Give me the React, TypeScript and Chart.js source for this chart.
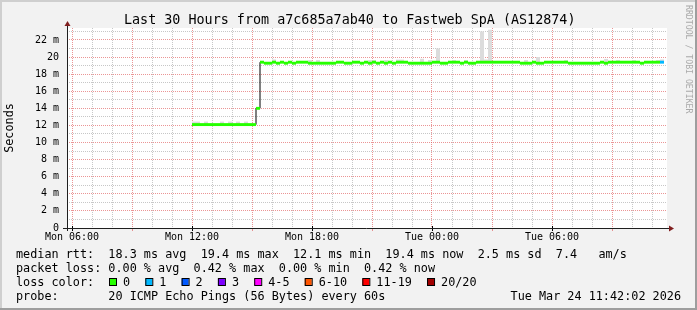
import React, { useEffect, useRef } from "react";
import { Chart, registerables } from "chart.js";

Chart.register(...registerables);

// ---------- text ----------
const TITLE = "Last 30 Hours from a7c685a7ab40 to Fastweb SpA (AS12874)";
const Y_TITLE = "Seconds";
const SIDE_TEXT = "RRDTOOL / TOBI OETIKER";

// ---------- axes (hours since Mon 00:00, milliseconds) ----------
const X_MIN = 5.75;
const X_MAX = 35.75;
const Y_MIN = 0;
const Y_MAX = 23.4;
const xGridHours = [6, 7, 8, 9, 10, 11, 12, 13, 14, 15, 16, 17, 18, 19, 20, 21, 22, 23, 24, 25, 26, 27, 28, 29, 30, 31, 32, 33, 34, 35];
const xLabelHours = [6, 12, 18, 24, 30];
const xLabels = ["Mon 06:00", "Mon 12:00", "Mon 18:00", "Tue 00:00", "Tue 06:00"];
const yGridValues = [0, 1, 2, 3, 4, 5, 6, 7, 8, 9, 10, 11, 12, 13, 14, 15, 16, 17, 18, 19, 20, 21, 22, 23];
const yLabelValues = [0, 2, 4, 6, 8, 10, 12, 14, 16, 18, 20, 22];
const yLabels = ["0", "2 m", "4 m", "6 m", "8 m", "10 m", "12 m", "14 m", "16 m", "18 m", "20", "22 m"];

// ---------- data: 12-minute steps starting Mon 12:00 ----------
const DATA_START_HOUR = 12;
const STEP_HOURS = 0.2;
const medianRtt = [
  12.1, 12.1, 12.1, 12.1, 12.1, 12.1, 12.1, 12.1, 12.1, 12.1,
  12.1, 12.1, 12.1, 12.1, 12.1, 12.1, 14.0, 19.4, 19.28, 19.28,
  19.4, 19.28, 19.4, 19.28, 19.4, 19.28, 19.4, 19.4, 19.4, 19.28,
  19.28, 19.28, 19.28, 19.28, 19.28, 19.28, 19.4, 19.4, 19.28, 19.28,
  19.4, 19.4, 19.28, 19.4, 19.28, 19.4, 19.28, 19.4, 19.28, 19.4,
  19.28, 19.4, 19.4, 19.4, 19.28, 19.28, 19.28, 19.28, 19.28, 19.28,
  19.4, 19.4, 19.28, 19.28, 19.4, 19.4, 19.4, 19.28, 19.4, 19.28,
  19.28, 19.4, 19.4, 19.4, 19.4, 19.4, 19.4, 19.4, 19.4, 19.4,
  19.4, 19.4, 19.28, 19.28, 19.28, 19.4, 19.28, 19.28, 19.4, 19.4,
  19.4, 19.4, 19.4, 19.4, 19.28, 19.28, 19.28, 19.28, 19.28, 19.28,
  19.28, 19.28, 19.4, 19.28, 19.4, 19.4, 19.4, 19.4, 19.4, 19.4,
  19.4, 19.4, 19.28, 19.4, 19.4, 19.4, 19.4, 19.4,
];
// smoke (max ping) where it rises above the median band
const smokeIndex = [0, 1, 3, 7, 9, 11, 13, 20, 29, 31, 44, 45, 48, 51, 52, 57, 59, 61, 65, 68, 72, 73, 74, 83, 86, 93, 103, 106, 110, 116, 117];
const smokeTop = [12.45, 12.45, 12.45, 12.45, 12.45, 12.45, 12.45, 19.72, 19.65, 19.65, 19.65, 19.65, 19.65, 19.7, 19.7, 19.8, 19.65, 21.0, 19.65, 19.65, 23.0, 19.72, 23.2, 19.65, 20.0, 19.65, 19.78, 19.65, 19.65, 19.65, 19.72];
// packet loss (pings lost of 20) where non zero
const lossIndex = [117];
const lossCount = [1];

// ---------- legend ----------
const legendRtt = "median rtt:  18.3 ms avg  19.4 ms max  12.1 ms min  19.4 ms now  2.5 ms sd  7.4   am/s";
const legendLoss = "packet loss: 0.00 % avg  0.42 % max  0.00 % min  0.42 % now";
const legendLossColor = "loss color:";
const lossLabels = ["0", "1", "2", "3", "4-5", "6-10", "11-19", "20/20"];
const lossColors = ["#26ff00", "#00b8ff", "#0059ff", "#7e00ff", "#ff00ff", "#ff5500", "#ff0000", "#a10000"];
const legendProbe = "probe:       20 ICMP Echo Pings (56 Bytes) every 60s";
const legendDate = "Tue Mar 24 11:42:02 2026";

// ---------- styles ----------
const MONO = '"DejaVu Sans Mono", monospace';
const BACK = "#f2f2f2";
const SHADE_A = "#cfcfcf";
const SHADE_B = "#9e9e9e";
const GRID = "rgba(143,143,143,0.5)";
const MGRID = "rgba(222,79,79,0.6)";
const ARROW = "#801f1f";
const SMOKE = "#dcdcdc";
const BAND_HALF = 0.17;

function lossColorFor(count: number): string {
  if (count <= 0) return lossColors[0];
  if (count === 1) return lossColors[1];
  if (count === 2) return lossColors[2];
  if (count === 3) return lossColors[3];
  if (count <= 5) return lossColors[4];
  if (count <= 10) return lossColors[5];
  if (count <= 19) return lossColors[6];
  return lossColors[7];
}

const framePlugin = {
  id: "rrdFrame",
  beforeDraw(chart: any) {
    const { ctx, width, height, chartArea: ca } = chart;
    ctx.save();
    ctx.fillStyle = BACK;
    ctx.fillRect(0, 0, width, height);
    ctx.fillStyle = SHADE_A;
    ctx.fillRect(0, 0, width, 2);
    ctx.fillRect(0, 0, 2, height);
    ctx.fillStyle = SHADE_B;
    ctx.fillRect(0, height - 2, width, 2);
    ctx.fillRect(width - 2, 0, 2, height);
    ctx.fillStyle = "#ffffff";
    ctx.fillRect(ca.left, ca.top, ca.right - ca.left, ca.bottom - ca.top);
    ctx.restore();
  },
  afterDraw(chart: any) {
    const { ctx, chartArea: ca } = chart;
    const xs = chart.scales.x;
    ctx.save();
    const by = ca.bottom + 0.5;
    const lx = ca.left + 0.5;
    // tick marks under x axis
    ctx.lineWidth = 1;
    for (const h of xGridHours) {
      const px = Math.round(xs.getPixelForValue(h)) + 0.5;
      if (xLabelHours.indexOf(h) >= 0) {
        ctx.strokeStyle = "#000";
        ctx.beginPath();
        ctx.moveTo(px, ca.bottom - 2);
        ctx.lineTo(px, ca.bottom + 3);
        ctx.stroke();
      } else if (h % 3 === 0) {
        ctx.strokeStyle = MGRID;
        ctx.beginPath();
        ctx.moveTo(px, ca.bottom + 1);
        ctx.lineTo(px, ca.bottom + 3);
        ctx.stroke();
      }
    }
    // axes
    ctx.strokeStyle = "#1f1f1f";
    ctx.beginPath();
    ctx.moveTo(ca.left - 4, by);
    ctx.lineTo(ca.right + 3, by);
    ctx.stroke();
    ctx.beginPath();
    ctx.moveTo(lx, ca.bottom + 3);
    ctx.lineTo(lx, ca.top - 3);
    ctx.stroke();
    // arrows
    ctx.fillStyle = ARROW;
    ctx.beginPath();
    ctx.moveTo(ca.right + 2, by - 3);
    ctx.lineTo(ca.right + 7, by);
    ctx.lineTo(ca.right + 2, by + 3);
    ctx.closePath();
    ctx.fill();
    ctx.beginPath();
    ctx.moveTo(lx - 3, ca.top - 2);
    ctx.lineTo(lx, ca.top - 7);
    ctx.lineTo(lx + 3, ca.top - 2);
    ctx.closePath();
    ctx.fill();

    // title
    ctx.fillStyle = "#000";
    ctx.textBaseline = "alphabetic";
    ctx.textAlign = "left";
    ctx.font = `13.4px ${MONO}`;
    ctx.fillText(TITLE, 124, 24);

    // y title
    ctx.save();
    ctx.translate(10, (ca.top + ca.bottom) / 2);
    ctx.rotate(-Math.PI / 2);
    ctx.font = `11.8px ${MONO}`;
    ctx.textAlign = "center";
    ctx.textBaseline = "middle";
    ctx.fillText(Y_TITLE, 0, 0);
    ctx.restore();

    // side text
    ctx.save();
    ctx.translate(688, 5);
    ctx.rotate(Math.PI / 2);
    ctx.font = `8.2px ${MONO}`;
    ctx.fillStyle = "#aaaaaa";
    ctx.textAlign = "left";
    ctx.textBaseline = "middle";
    ctx.fillText(SIDE_TEXT, 0, 0);
    ctx.restore();

    // legend
    ctx.font = `11.8px ${MONO}`;
    ctx.fillStyle = "#000";
    ctx.textAlign = "left";
    ctx.textBaseline = "alphabetic";
    ctx.fillText(legendRtt, 16, 257.7);
    ctx.fillText(legendLoss, 16, 271.8);
    ctx.fillText(legendLossColor, 16, 286);
    ctx.fillText(legendProbe, 16, 300);
    ctx.textAlign = "right";
    ctx.fillText(legendDate, 681, 300);
    ctx.textAlign = "left";
    const charW = ctx.measureText("0").width;
    let bx = 109;
    for (let i = 0; i < lossLabels.length; i++) {
      ctx.fillStyle = lossColors[i];
      ctx.fillRect(bx, 278.5, 7, 7);
      ctx.strokeStyle = "#000";
      ctx.strokeRect(bx + 0.5, 278.5, 7, 7);
      ctx.fillStyle = "#000";
      const tx = bx + 14;
      ctx.fillText(lossLabels[i], tx, 286);
      bx = tx + lossLabels[i].length * charW + 15.2;
    }
    ctx.restore();
  },
};

export default function App() {
  const ref = useRef<HTMLCanvasElement | null>(null);

  useEffect(() => {
    document.body.style.margin = "0";
    const canvas = ref.current;
    if (!canvas) return;

    const starts = medianRtt.map((_, i) => DATA_START_HOUR + STEP_HOURS * i);
    const last = medianRtt.length - 1;

    const bandColors = medianRtt.map((_, i) => {
      const k = lossIndex.indexOf(i);
      return lossColorFor(k < 0 ? 0 : lossCount[k]);
    });

    const bandData = medianRtt.map((m, i) => ({
      x: starts[i] + STEP_HOURS / 2,
      y: [m - BAND_HALF, m + BAND_HALF],
    }));
    const lineData = medianRtt.map((m, i) => ({ x: starts[i], y: m }));
    lineData.push({ x: starts[last] + STEP_HOURS, y: medianRtt[last] });
    const smokeData = smokeIndex.map((idx, k) => ({
      x: starts[idx] + STEP_HOURS / 2,
      y: [medianRtt[idx], smokeTop[k]],
    }));

    const tickFont = { family: MONO, size: 10 };

    const chart = new Chart(canvas, {
      type: "bar",
      data: {
        datasets: [
          {
            type: "bar",
            label: "median",
            data: bandData as any,
            backgroundColor: bandColors,
            borderWidth: 0,
            inflateAmount: 0,
            grouped: false,
            barPercentage: 1,
            categoryPercentage: 1,
            order: 0,
          } as any,
          {
            type: "line",
            label: "median line",
            data: lineData as any,
            borderColor: "#000000",
            borderWidth: 1,
            pointRadius: 0,
            stepped: true,
            fill: false,
            order: 1,
          } as any,
          {
            type: "bar",
            label: "smoke",
            data: smokeData as any,
            backgroundColor: SMOKE,
            borderWidth: 0,
            inflateAmount: 0,
            grouped: false,
            barPercentage: 1,
            categoryPercentage: 1,
            order: 2,
          } as any,
        ],
      },
      options: {
        responsive: false,
        animation: false,
        events: [],
        layout: { padding: { left: 0, top: 28, right: 30, bottom: 0 } },
        plugins: {
          legend: { display: false },
          tooltip: { enabled: false },
          title: { display: false },
        },
        scales: {
          x: {
            type: "linear",
            offset: false,
            min: X_MIN,
            max: X_MAX,
            afterFit: (s: any) => {
              s.height = 82;
              s.paddingLeft = 0;
              s.paddingRight = 0;
            },
            afterBuildTicks: (s: any) => {
              s.ticks = xGridHours.map((v) => ({ value: v }));
            },
            grid: {
              offset: false,
              color: (c: any) => (c.tick && c.tick.value % 3 === 0 ? MGRID : GRID),
              lineWidth: 1,
              drawTicks: false,
            },
            border: { display: false, dash: [1, 1] },
            ticks: {
              autoSkip: false,
              maxRotation: 0,
              minRotation: 0,
              padding: 3,
              color: "#000",
              font: tickFont,
              callback: (v: any) => {
                const k = xLabelHours.indexOf(Number(v));
                return k >= 0 ? xLabels[k] : "";
              },
            },
          },
          y: {
            type: "linear",
            min: Y_MIN,
            max: Y_MAX,
            afterFit: (s: any) => {
              s.width = 67;
            },
            afterBuildTicks: (s: any) => {
              s.ticks = yGridValues.map((v) => ({ value: v }));
            },
            grid: {
              color: (c: any) => (c.tick && c.tick.value % 2 === 0 ? MGRID : GRID),
              lineWidth: 1,
              drawTicks: false,
            },
            border: { display: false, dash: [1, 1] },
            ticks: {
              autoSkip: false,
              padding: 8,
              color: "#000",
              font: tickFont,
              callback: (v: any) => {
                const k = yLabelValues.indexOf(Number(v));
                return k >= 0 ? yLabels[k] : "";
              },
            },
          },
        },
      },
      plugins: [framePlugin],
    } as any);

    return () => {
      chart.destroy();
    };
  }, []);

  return (
    <div style={{ position: "absolute", left: 0, top: 0, width: 697, height: 310 }}>
      <canvas ref={ref} width={697} height={310} style={{ display: "block", width: 697, height: 310 }} />
    </div>
  );
}
